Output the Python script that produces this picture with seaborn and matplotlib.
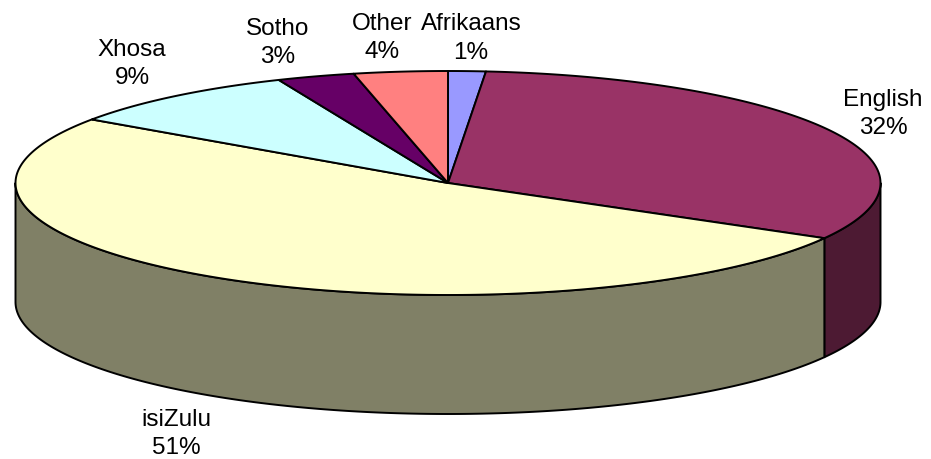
import numpy as np
import matplotlib
matplotlib.use("Agg")
import matplotlib.pyplot as plt
import seaborn as sns

languages = ["Afrikaans", "English", "isiZulu", "Xhosa", "Sotho", "Other"]
shares = [1.4, 31.8, 51.4, 9.0, 2.9, 3.5]
slice_colors = ["#9999FF", "#993366", "#FFFFCC", "#CCFFFF", "#660066", "#FF8080"]

# pie geometry in pixels
cx, cy = 448, 183
rx, ry = 432.5, 112
depth = 119

label_pos = {
    "Afrikaans": (471, 38.5),
    "English": (883, 114),
    "isiZulu": (176, 434),
    "Xhosa": (132, 64),
    "Sotho": (278, 43),
    "Other": (382, 38),
}

sns.set_theme(style="white")
plt.rcParams['font.family'] = ['Liberation Sans', 'DejaVu Sans']

fig, ax = plt.subplots(figsize=(9.31, 4.59), dpi=100)
ax.set_position([0, 0, 1, 1])
ax.set_xlim(0, 931)
ax.set_ylim(459, 0)
ax.axis("off")


def rim(a0, a1):
    # angles clockwise from the top of the ellipse
    t = np.linspace(a0, a1, 200)
    return cx + rx * np.sin(t), cy - ry * np.cos(t)


edges = np.cumsum([0] + shares) / sum(shares) * 2 * np.pi

# side wall, only the front half of the ellipse shows
for i, lang in enumerate(languages):
    a0 = max(edges[i], np.pi / 2)
    a1 = min(edges[i + 1], 3 * np.pi / 2)
    if a1 <= a0:
        continue
    x, y = rim(a0, a1)
    side = tuple(c * 0.5 for c in matplotlib.colors.to_rgb(slice_colors[i]))
    ax.fill(np.r_[x, x[::-1]], np.r_[y, y[::-1] + depth], facecolor=side,
            edgecolor="black", linewidth=1.4, joinstyle="round")

# top face
for i, lang in enumerate(languages):
    x, y = rim(edges[i], edges[i + 1])
    ax.fill(np.r_[cx, x], np.r_[cy, y], facecolor=slice_colors[i],
            edgecolor="black", linewidth=1.4, joinstyle="round")

for lang, share in zip(languages, shares):
    px, py = label_pos[lang]
    ax.text(px, py, f"{lang}\n{share:.0f}%", ha="center", va="center",
            fontsize=17.5, color="black", linespacing=1.4)

fig.savefig("out.png", dpi=100)
